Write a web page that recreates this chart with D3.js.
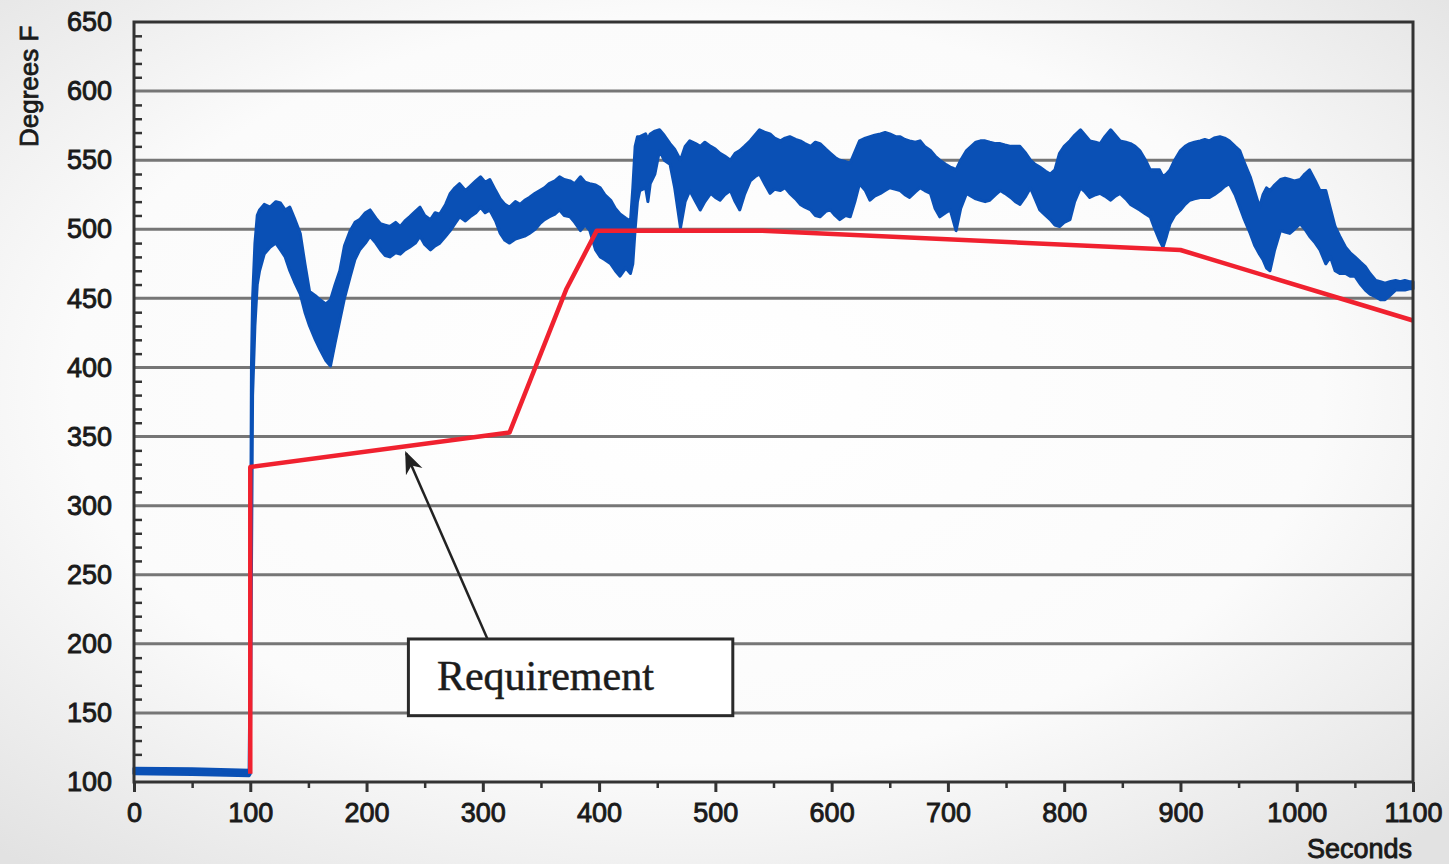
<!DOCTYPE html>
<html>
<head>
<meta charset="utf-8">
<script src="https://cdn.jsdelivr.net/npm/d3@7"></script>
<style>
    body { margin: 0; background: #ffffff; }
</style>
</head>
<body>
<div id="chart"></div>
<script>
// chart values
var xTicks = [0, 100, 200, 300, 400, 500, 600, 700, 800, 900, 1000, 1100];
var yTicks = [100, 150, 200, 250, 300, 350, 400, 450, 500, 550, 600, 650];

// measured temperature (seconds, low and high edge of the noisy trace)
var tempT = [0, 50, 99, 100, 101, 102, 104, 106, 108, 112, 117, 122, 126, 130, 134, 138, 143, 147, 151, 156,
    160, 165, 169, 173, 177, 181, 186, 190, 194, 199, 203, 208, 212, 216, 220, 225, 229, 233, 237, 242,
    246, 250, 255, 259, 263, 268, 272, 276, 280, 285, 289, 294, 298, 302, 306, 311, 315, 319, 323, 328,
    332, 336, 340, 345, 349, 353, 357, 362, 366, 370, 375, 379, 384, 388, 392, 397, 401, 405, 410, 414,
    418, 423, 427, 429, 431, 433, 435, 440, 442, 444, 448, 452, 456, 461, 465, 470, 474, 478, 483, 487,
    491, 496, 500, 504, 508, 513, 517, 521, 525, 530, 534, 538, 543, 547, 551, 556, 560, 564, 569, 573,
    577, 582, 586, 590, 595, 599, 603, 607, 612, 616, 620, 624, 629, 633, 637, 642, 646, 650, 655, 659,
    663, 667, 672, 676, 680, 685, 689, 693, 698, 702, 705, 707, 711, 716, 720, 724, 728, 732, 736, 741,
    745, 749, 754, 758, 762, 767, 771, 775, 779, 784, 788, 792, 796, 800, 805, 809, 814, 818, 822, 827,
    831, 835, 840, 844, 848, 853, 857, 861, 865, 870, 874, 878, 882, 885, 888, 891, 895, 900, 904, 908,
    912, 917, 921, 925, 929, 934, 938, 942, 947, 951, 955, 960, 964, 968, 971, 974, 977, 981, 986, 990,
    994, 998, 1003, 1007, 1011, 1016, 1020, 1025, 1029, 1033, 1037, 1042, 1046, 1050, 1055, 1059, 1063, 1068, 1072, 1076,
    1080, 1085, 1089, 1093, 1097, 1100];
var tempLo = [106, 105.5, 104.5, 106, 250, 380, 430, 460, 470, 482, 487, 490, 485, 480, 470, 462, 453, 440, 430, 420,
    413, 405, 401, 418, 434, 450, 466, 478, 485, 490, 495, 490, 485, 481, 480, 483, 482, 485, 487, 490,
    495, 489, 485, 488, 490, 495, 499, 504, 509, 506, 509, 512, 516, 512, 514, 506, 497, 492, 490, 493,
    494, 495, 497, 500, 504, 507, 509, 511, 514, 510, 509, 505, 499, 503, 499, 485, 480, 478, 475, 470,
    466, 472, 468, 475, 500, 520, 528, 530, 520, 533, 540, 557, 550, 547, 530, 501, 520, 528, 520, 514,
    520, 526, 523, 521, 525, 528, 520, 514, 525, 535, 538, 540, 532, 526, 529, 528, 530, 526, 522, 518,
    516, 514, 510, 509, 513, 514, 510, 507, 510, 509, 520, 533, 528, 521, 524, 526, 528, 530, 529, 528,
    525, 523, 527, 530, 528, 526, 515, 509, 512, 514, 505, 499, 515, 526, 524, 522, 521, 520, 521, 525,
    528, 526, 523, 520, 518, 524, 530, 522, 514, 510, 507, 503, 502, 505, 507, 520, 530, 527, 523, 525,
    526, 524, 521, 524, 526, 522, 518, 516, 514, 511, 509, 500, 492, 487, 495, 504, 510, 514, 518, 521,
    522, 523, 523, 523, 525, 528, 531, 533, 525, 516, 507, 497, 488, 482, 478, 472, 470, 485, 499, 498,
    497, 500, 504, 500, 495, 490, 485, 475, 480, 470, 468, 468, 466, 466, 460, 456, 453, 451, 449, 449,
    452, 456, 456, 456, 457, 457];
var tempHi = [110, 109.5, 108.5, 200, 400, 450, 490, 510, 514, 518, 516, 520, 519, 514, 516, 508, 497, 475, 455, 452,
    449, 446, 449, 460, 470, 488, 499, 505, 507, 512, 514, 508, 504, 503, 502, 505, 502, 506, 509, 513,
    516, 510, 507, 512, 511, 518, 526, 530, 533, 528, 531, 535, 538, 534, 536, 528, 522, 518, 516, 520,
    518, 521, 523, 526, 528, 530, 533, 535, 538, 536, 535, 533, 538, 534, 533, 532, 530, 525, 521, 515,
    511, 508, 506, 530, 560, 567, 567, 569, 565, 569, 571, 572, 568, 562, 558, 550, 560, 564, 562, 560,
    563, 560, 558, 555, 553, 550, 555, 557, 560, 564, 568, 572, 570, 569, 566, 564, 566, 567, 565, 564,
    562, 560, 563, 562, 558, 555, 552, 550, 549, 548, 556, 564, 566, 567, 568, 569, 570, 569, 567, 567,
    565, 564, 563, 564, 560, 557, 553, 550, 547, 545, 544, 543, 550, 557, 560, 563, 564, 564, 563, 562,
    562, 561, 560, 560, 560, 555, 550, 547, 545, 542, 540, 543, 555, 560, 564, 568, 572, 568, 564, 563,
    562, 567, 572, 568, 564, 563, 562, 560, 557, 550, 543, 543, 543, 538, 540, 543, 550, 557, 560, 562,
    563, 564, 565, 564, 566, 567, 566, 564, 560, 557, 548, 538, 527, 516, 525, 530, 528, 532, 536, 537,
    536, 535, 536, 540, 543, 535, 528, 528, 515, 502, 495, 487, 483, 480, 476, 473, 468, 463, 462, 461,
    462, 463, 462, 463, 462, 462];

// requirement line
var reqT = [100, 100, 323, 372, 398, 540, 900, 1100];
var reqV = [106, 328, 353, 457, 499, 499, 485, 434];

// annotation box and arrow, in chart units
var noteText = "Requirement";
var noteBox = [236, 515, 148, 203.5];
var noteTextAt = [260.5, 166.5];
var noteArrow = [304, 203.5, 234, 338];

var svgWidth = 1449;
var svgHeight = 864;

var margin = {
    top: 22,
    bottom: 82,
    left: 134,
    right: 36
};

var width = svgWidth - margin.left - margin.right;
var height = svgHeight - margin.top - margin.bottom;

var sans = "'Liberation Sans', Arial, sans-serif";
var serif = "'Liberation Serif', 'Times New Roman', serif";

var svg = d3.select("#chart")
    .append("svg")
    .attr("width", svgWidth)
    .attr("height", svgHeight);

// soft grey background
var defs = svg.append("defs");
var grad = defs.append("radialGradient")
    .attr("id", "bg")
    .attr("cx", "48%").attr("cy", "45%").attr("r", "72%");
grad.append("stop").attr("offset", "0%").attr("stop-color", "#ffffff");
grad.append("stop").attr("offset", "60%").attr("stop-color", "#fbfbfb");
grad.append("stop").attr("offset", "100%").attr("stop-color", "#e2e2e2");

defs.append("marker")
    .attr("id", "arrowHead")
    .attr("viewBox", "0 0 10 10")
    .attr("refX", 9).attr("refY", 5)
    .attr("markerWidth", 9).attr("markerHeight", 9)
    .attr("markerUnits", "strokeWidth")
    .attr("orient", "auto")
    .append("path")
    .attr("d", "M0,1 L10,5 L0,9 L3,5 Z")
    .attr("fill", "#222");

svg.append("rect")
    .attr("width", svgWidth)
    .attr("height", svgHeight)
    .attr("fill", "url(#bg)");

var chartGroup = svg.append("g")
    .attr("transform", `translate(${margin.left}, ${margin.top})`);

var xScale = d3.scaleLinear()
    .domain([0, 1100])
    .range([0, width]);

var yScale = d3.scaleLinear()
    .domain([100, 650])
    .range([height, 0]);

// horizontal grid
chartGroup.append("g")
    .selectAll("line")
    .data(yTicks.filter(d => d > 100 && d < 650))
    .enter()
    .append("line")
    .attr("x1", 0)
    .attr("x2", width)
    .attr("y1", d => yScale(d))
    .attr("y2", d => yScale(d))
    .attr("stroke", "#767676")
    .attr("stroke-width", 3);

// minor ticks inside the left edge
var yMinor = d3.range(110, 650, 10).filter(d => d % 50 != 0);
chartGroup.append("g")
    .call(d3.axisRight(yScale).tickValues(yMinor).tickSize(8).tickFormat(""))
    .call(g => g.select(".domain").remove())
    .selectAll("line")
    .attr("stroke", "#333")
    .attr("stroke-width", 2.5);

// y axis labels
chartGroup.append("g")
    .call(d3.axisLeft(yScale).tickValues(yTicks).tickSize(0).tickPadding(22))
    .call(g => g.select(".domain").remove())
    .selectAll("text")
    .style("font-size", "27px")
    .style("font-family", sans)
    .attr("fill", "#1a1a1a")
    .attr("stroke", "#1a1a1a")
    .attr("stroke-width", 0.9);

// x axis: major ticks and labels
var xAxisG = chartGroup.append("g")
    .attr("transform", `translate(0, ${height})`)
    .call(d3.axisBottom(xScale).tickValues(xTicks).tickSize(10).tickPadding(11).tickFormat(d3.format("d")));
xAxisG.select(".domain").remove();
xAxisG.selectAll("line").attr("stroke", "#333").attr("stroke-width", 3);
xAxisG.selectAll("text")
    .style("font-size", "27px")
    .style("font-family", sans)
    .attr("fill", "#1a1a1a")
    .attr("stroke", "#1a1a1a")
    .attr("stroke-width", 0.9);

// x minor ticks
chartGroup.append("g")
    .attr("transform", `translate(0, ${height})`)
    .call(d3.axisBottom(xScale).tickValues(d3.range(50, 1100, 100)).tickSize(6).tickFormat(""))
    .call(g => g.select(".domain").remove())
    .selectAll("line")
    .attr("stroke", "#333")
    .attr("stroke-width", 2.5);

// measured trace as a band
var tempArea = d3.area()
    .x(i => xScale(tempT[i]))
    .y0(i => yScale(tempLo[i]))
    .y1(i => yScale(tempHi[i]));

chartGroup.append("path")
    .datum(d3.range(tempT.length))
    .attr("d", tempArea)
    .attr("fill", "#0a50b5")
    .attr("stroke", "#0a50b5")
    .attr("stroke-width", 3)
    .attr("stroke-linejoin", "round");

// requirement line
var reqLine = d3.line()
    .x(i => xScale(reqT[i]))
    .y(i => yScale(reqV[i]));

chartGroup.append("path")
    .datum(d3.range(reqT.length))
    .attr("d", reqLine)
    .attr("fill", "none")
    .attr("stroke", "#f0212f")
    .attr("stroke-width", 4.5)
    .attr("stroke-linejoin", "round");

// plot frame
chartGroup.append("rect")
    .attr("width", width)
    .attr("height", height)
    .attr("fill", "none")
    .attr("stroke", "#333")
    .attr("stroke-width", 3);

// annotation
chartGroup.append("line")
    .attr("x1", xScale(noteArrow[0]))
    .attr("y1", yScale(noteArrow[1]))
    .attr("x2", xScale(noteArrow[2]))
    .attr("y2", yScale(noteArrow[3]))
    .attr("stroke", "#222")
    .attr("stroke-width", 2.5)
    .attr("marker-end", "url(#arrowHead)");

chartGroup.append("rect")
    .attr("x", xScale(noteBox[0]))
    .attr("y", yScale(noteBox[3]))
    .attr("width", xScale(noteBox[1]) - xScale(noteBox[0]))
    .attr("height", yScale(noteBox[2]) - yScale(noteBox[3]))
    .attr("fill", "#ffffff")
    .attr("stroke", "#2a2a2a")
    .attr("stroke-width", 3);

chartGroup.append("text")
    .attr("x", xScale(noteTextAt[0]))
    .attr("y", yScale(noteTextAt[1]))
    .style("font-family", serif)
    .style("font-size", "42px")
    .attr("fill", "#1c1c1c")
    .attr("stroke", "#1c1c1c")
    .attr("stroke-width", 0.5)
    .text(noteText);

// axis titles
svg.append("text")
    .attr("transform", "translate(38, 147) rotate(-90)")
    .style("font-family", sans)
    .style("font-size", "26px")
    .attr("fill", "#1a1a1a")
    .attr("stroke", "#1a1a1a")
    .attr("stroke-width", 0.8)
    .text("Degrees F");

svg.append("text")
    .attr("x", 1412)
    .attr("y", 858)
    .attr("text-anchor", "end")
    .style("font-family", sans)
    .style("font-size", "27px")
    .attr("fill", "#1a1a1a")
    .attr("stroke", "#1a1a1a")
    .attr("stroke-width", 0.9)
    .text("Seconds");
</script>
</body>
</html>
